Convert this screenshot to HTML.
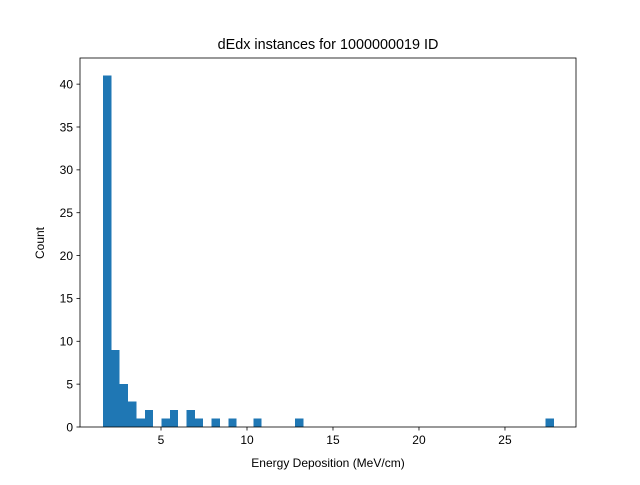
<!DOCTYPE html>
<html><head><meta charset="utf-8"><style>
body{margin:0;background:#fff;}
svg{font-family:"Liberation Sans","DejaVu Sans",sans-serif;}
</style></head><body>
<svg id="chart" width="640" height="480">
<rect width="640" height="480" fill="#fff"/>
<g id="bars" shape-rendering="crispEdges"></g>
<g id="axes"></g>
<text x="328" y="49" text-anchor="middle" font-size="14.4">dEdx instances for 1000000019 ID</text>
<text x="328" y="467" text-anchor="middle" font-size="12">Energy Deposition (MeV/cm)</text>
<text x="44" y="243" text-anchor="middle" font-size="12" transform="rotate(-90 44 243)">Count</text>
</svg>
<script>
const binStart = 1.63;
const binWidth = 0.4855;
const counts = [41,9,5,3,1,2,0,1,2,0,2,1,0,1,0,1,0,0,1,0,0,0,0,1,0,0,0,0,0,0,0,0,0,0,0,0,0,0,0,0,0,0,0,0,0,0,0,0,0,0,0,0,0,1];
const xTicks = [5,10,15,20,25];
const yTicks = [0,5,10,15,20,25,30,35,40];
const L=80,R=576,T=58,B=427;
const xMin=0.29,xMax=29.13,yMax=43.05;
const sx=v=>L+(v-xMin)/(xMax-xMin)*(R-L);
const sy=v=>B-v/yMax*(B-T);
const NS="http://www.w3.org/2000/svg";
const bars=document.getElementById('bars');
counts.forEach((c,i)=>{
  if(!c) return;
  const r=document.createElementNS(NS,'rect');
  const x0=sx(binStart+i*binWidth),x1=sx(binStart+(i+1)*binWidth);
  r.setAttribute('x',x0);r.setAttribute('width',x1-x0);
  r.setAttribute('y',sy(c));r.setAttribute('height',B-sy(c));
  r.setAttribute('fill','#1f77b4');
  
  
  bars.appendChild(r);
});
const ax=document.getElementById('axes');
let h=`<rect x="${L}" y="${T}" width="${R-L}" height="${B-T}" fill="none" stroke="#000" stroke-width="0.8"/>`;
xTicks.forEach(t=>{const x=sx(t);h+=`<line x1="${x}" x2="${x}" y1="${B}" y2="${B+3.5}" stroke="#000" stroke-width="0.8"/><text x="${x}" y="${B+17}" text-anchor="middle" font-size="12">${t}</text>`;});
yTicks.forEach(t=>{const y=sy(t);h+=`<line x1="${L-3.5}" x2="${L}" y1="${y}" y2="${y}" stroke="#000" stroke-width="0.8"/><text x="${L-7}" y="${y+4.3}" text-anchor="end" font-size="12">${t}</text>`;});
ax.innerHTML=h;


</script>
</body></html>
